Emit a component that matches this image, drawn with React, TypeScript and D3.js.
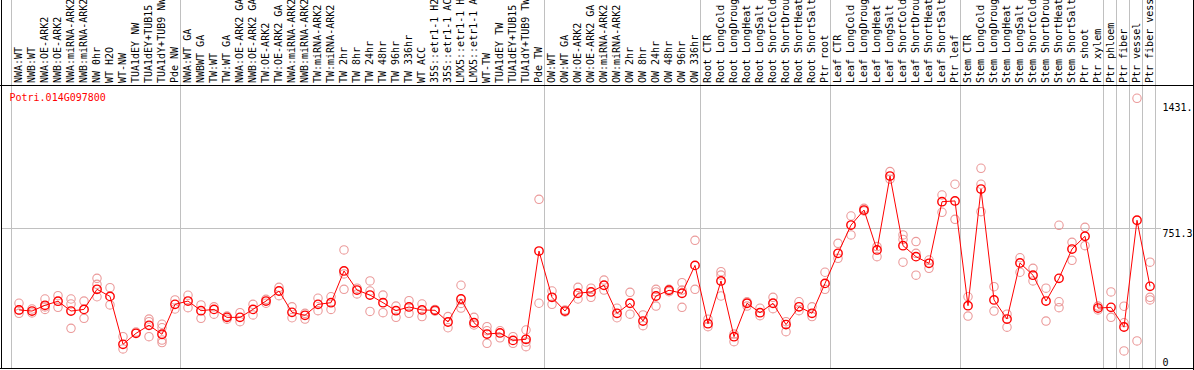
import React from 'react';
import * as d3 from 'd3';

const title = 'Potri.014G097800';

const labels = [
  'NWA:WT', 'NWB:WT', 'NWA:OE-ARK2', 'NWB:OE-ARK2', 'NWA:miRNA-ARK2', 'NWB:miRNA-ARK2',
  'NW 0hr', 'WT H2O', 'WT-NW', 'TUA1dEY NW', 'TUA1dEY+TUB15 NW', 'TUA1dY+TUB9 NW', 'Pde NW',
  'NWA:WT GA', 'NWBWT GA', 'TW:WT', 'TW:WT GA', 'NWA:OE-ARK2 GA', 'NWB:OE-ARK2 GA',
  'TW:OE-ARK2', 'TW:OE-ARK2 GA', 'NWA:miRNA-ARK2 GA', 'NWB:miRNA-ARK2 GA', 'TW:miRNA-ARK2',
  'TW:miRNA-ARK2 GA', 'TW 2hr', 'TW 8hr', 'TW 24hr', 'TW 48hr', 'TW 96hr', 'TW 336hr', 'WT ACC',
  '35S::etr1-1 H2O', '35S::etr1-1 ACC', 'LMX5::etr1-1 H2O', 'LMX5::etr1-1 ACC', 'WT-TW',
  'TUA1dEY TW', 'TUA1dEY+TUB15 TW', 'TUA1dY+TUB9 TW', 'Pde TW',
  'OW:WT', 'OW:WT GA', 'OW:OE-ARK2', 'OW:OE-ARK2 GA', 'OW:miRNA-ARK2', 'OW:miRNA-ARK2 GA',
  'OW 2hr', 'OW 8hr', 'OW 24hr', 'OW 48hr', 'OW 96hr', 'OW 336hr',
  'Root CTR', 'Root LongCold', 'Root LongDrought', 'Root LongHeat', 'Root LongSalt',
  'Root ShortCold', 'Root ShortDrought', 'Root ShortHeat', 'Root ShortSalt', 'Ptr root',
  'Leaf CTR', 'Leaf LongCold', 'Leaf LongDrought', 'Leaf LongHeat', 'Leaf LongSalt',
  'Leaf ShortCold', 'Leaf ShortDrought', 'Leaf ShortHeat', 'Leaf ShortSalt', 'Ptr leaf',
  'Stem CTR', 'Stem LongCold', 'Stem LongDrought', 'Stem LongHeat', 'Stem LongSalt',
  'Stem ShortCold', 'Stem ShortDrought', 'Stem ShortHeat', 'Stem ShortSalt', 'Ptr shoot',
  'Ptr xylem', 'Ptr phloem', 'Ptr fiber', 'Ptr vessel', 'Ptr fiber vessel'
];

// mean expression per sample
const means = [
  310, 304, 335, 357, 304, 313, 421, 383, 125, 184, 227, 179, 340,
  358, 306, 313, 270, 270, 313, 358, 412, 297, 281, 340, 349, 520, 417, 390, 349, 306,
  326, 310, 308, 245, 369, 241, 180, 186, 146, 152, 627,
  378, 304, 400, 407, 443, 292, 346, 250, 385, 416, 400, 550,
  236, 466, 166, 346, 295, 346, 231, 327, 292, 453,
  615, 767, 848, 633, 1031, 656, 597, 561, 893, 897,
  333, 961, 364, 261, 563, 497, 358, 480, 638, 707, 320,
  324, 218, 793, 437
];

// replicate values per sample (null = no replicate)
const repA = [
  346, 315, 369, 387, 369, 358, 480, 430, 166, 191, 261, 233, 364,
  389, 337, 327, 260, 295, 340, 367, 432, 327, 292, 373, 381, 633, 427, 466, 390, 331,
  360, 342, 313, 274, 443, 270, 220, 198, 166, 202, 906,
  412, 310, 432, 427, 471, 319, 405, 283, 421, 421, 457, 685,
  260, 516, 180, 354, 319, 378, 247, 354, 327, 513,
  669, 816, 857, 651, 1055, 714, 678, 579, 929, 987,
  381, 1073, 435, 287, 591, 534, 427, 766, 674, 755, 310,
  407, 330, 1450, 567
];
const repB = [
  292, 294, 313, 324, 342, 265, 448, 337, 100, null, 247, 214, 315,
  322, 265, 287, 277, 247, 283, 346, 387, 268, 261, 306, 313, 421, 396, 412, 295, 270,
  292, 274, 304, 214, 320, 229, 130, 160, 130, 112, 346,
  340, 299, 369, 378, 417, 268, 287, 225, 331, 408, 324, 421,
  220, 498, 139, 331, 279, 317, 193, 306, 274, 421,
  588, 714, 843, 597, 1014, 690, 615, 534, 836, 798,
  277, 987, 304, 217, 513, 466, 250, 354, 577, 656, 331,
  270, 241, 143, 378
];
const repC = [
  310, null, 326, null, 211, null, 381, null, null, null, 166, 148, null,
  null, null, null, null, null, null, null, null, null, null, null, null, 504, null, 302, null, null,
  null, null, null, null, 345, null, 198, null, null, 137, null,
  null, null, null, null, null, null, null, null, 407, null, 417, null,
  null, 385, null, null, null, null, null, null, null, null,
  null, null, null, null, null, 567, 497, null, null, null,
  null, 839, null, null, null, null, null, 322, null, null, null,
  null, 89, null, 364
];
const repD = [
  null, null, null, null, null, null, null, null, null, null, null, 134, null,
  null, null, null, null, null, null, null, null, null, null, null, null, null, null, null, null, null,
  null, null, null, null, null, null, null, null, null, null, null,
  null, null, null, null, null, null, null, null, null, null, null, null,
  null, null, null, null, null, null, null, null, null, null,
  null, null, null, null, null, null, null, null, null, null,
  null, null, null, null, null, null, null, null, null, null, null,
  null, null, null, null
];

// group boundaries (index of first sample after a vertical grid line)
const groupStarts = [0, 13, 41, 53, 63, 73, 84, 85, 86, 87, 88];

const tickValues = [0, 751.3, 1431.5];
const tickTexts = ['0', '751.3', '1431.'];

const FONT = '"DejaVu Sans Mono", "Liberation Mono", monospace';

export default function App() {
  const W = 1194;
  const H = 370;
  const n = labels.length;
  const x = d3.scaleBand<number>().domain(d3.range(n)).range([10.5, 10.5 + 13 * n]);
  const y = d3.scaleLinear().domain([0, 1502.6]).range([367.5, 88.5]);
  const cx = (i: number) => (x(i) as number) + 8.5;
  const gridX = (i: number) => (i < n ? (x(i) as number) : (x(n - 1) as number) + x.bandwidth());

  const linePath = d3.line<number>().x((_, i) => cx(i)).y((d) => y(d))(means) || '';

  const reps: { i: number; v: number }[] = [];
  [repA, repB, repC, repD].forEach((arr) =>
    arr.forEach((v, i) => {
      if (v !== null && v !== undefined) reps.push({ i, v: v as number });
    })
  );

  const rightEdge = gridX(n);

  return (
    <svg
      width={W}
      height={H}
      style={{ position: 'absolute', left: 0, top: 0, background: '#fff' }}
      fontFamily={FONT}
    >
      <rect x={0} y={0} width={W} height={H} fill="#fff" />
      {/* vertical grid lines */}
      {groupStarts.map((g) => (
        <line
          key={'g' + g}
          x1={Math.round(gridX(g)) + 0.5}
          x2={Math.round(gridX(g)) + 0.5}
          y1={0}
          y2={368}
          stroke="#c0c0c0"
          strokeWidth={1}
        />
      ))}
      {/* horizontal mid grid line */}
      <line x1={2} x2={1161} y1={Math.round(y(751.3)) + 0.5} y2={Math.round(y(751.3)) + 0.5} stroke="#c0c0c0" strokeWidth={1} />

      {/* header labels */}
      {labels.map((l, i) => (
        <text
          key={'l' + i}
          transform={`translate(${cx(i) - 1},83) rotate(-90)`}
          fontSize={10}
          dominantBaseline="central"
          fill="#000"
        >
          {l}
        </text>
      ))}

      {/* frame */}
      <line x1={0} x2={W} y1={85.5} y2={85.5} stroke="#000" strokeWidth={1} />
      <line x1={1.5} x2={1.5} y1={0} y2={369} stroke="#000" strokeWidth={1} />
      <line x1={0} x2={W} y1={368.5} y2={368.5} stroke="#000" strokeWidth={1} />
      <line x1={1193.5} x2={1193.5} y1={0} y2={H} stroke="#000" strokeWidth={1} />

      {/* title */}
      <text x={9.5} y={101} fontSize={10} fill="#ff0000">
        {title}
      </text>

      {/* y tick labels */}
      {tickValues.map((t, k) => (
        <text
          key={'t' + k}
          x={rightEdge + 8}
          y={t === 0 ? y(t) - 2 : y(t) + 9}
          fontSize={10}
          fill="#000"
        >
          {tickTexts[k]}
        </text>
      ))}

      {/* replicates */}
      {reps.map((r, k) => (
        <circle key={'r' + k} cx={cx(r.i)} cy={y(r.v)} r={4.2} fill="none" stroke="#eb9a9a" strokeWidth={1.1} />
      ))}

      {/* mean line */}
      <path d={linePath} fill="none" stroke="#ff0000" strokeWidth={1} />

      {/* mean markers */}
      {means.map((m, i) => (
        <g key={'m' + i}>
          <circle cx={cx(i)} cy={y(m)} r={4.2} fill="none" stroke="#ff0000" strokeWidth={1.4} />
        </g>
      ))}
    </svg>
  );
}
